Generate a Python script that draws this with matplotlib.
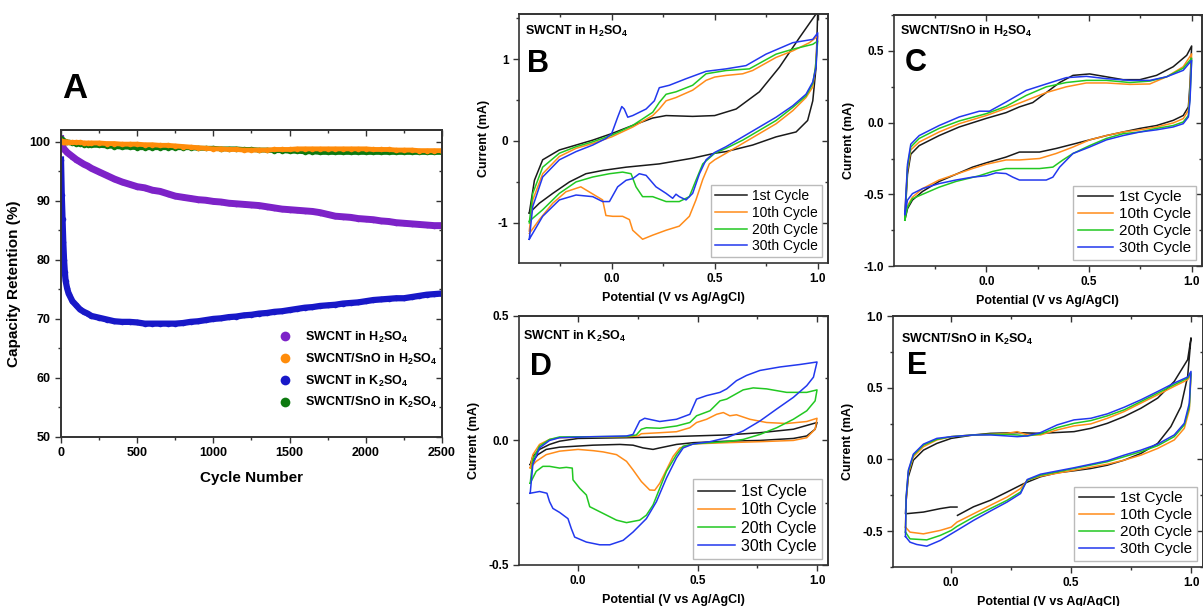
import numpy as np
import matplotlib
matplotlib.use('Agg')
import matplotlib.pyplot as plt
from matplotlib.ticker import MultipleLocator
from matplotlib.lines import Line2D

plt.rcParams['font.family'] = ['Liberation Sans', 'DejaVu Sans']
plt.rcParams['mathtext.default'] = 'regular'
plt.rcParams['axes.unicode_minus'] = False

# ---------------- Panel A: capacity retention ----------------
cycles = [0, 5, 10, 15, 20, 25, 30, 40, 50, 75, 100, 125, 150, 175, 200] + list(range(250, 2501, 50))

ret_swcnt_h2so4 = [100.5, 99.5, 99.2, 99.0, 98.8, 98.6, 98.5, 98.2, 98.0, 97.5, 97.0, 96.6, 96.2, 95.9, 95.5,
                   94.9, 94.3, 93.7, 93.2, 92.8, 92.4, 92.2, 91.8, 91.6, 91.2,
                   90.8, 90.6, 90.4, 90.2, 90.1, 89.9, 89.8, 89.6, 89.5, 89.4,
                   89.3, 89.2, 89.0, 88.8, 88.6, 88.5, 88.4, 88.3, 88.2, 88.0,
                   87.7, 87.4, 87.3, 87.2, 87.0, 86.9, 86.8, 86.6, 86.5, 86.3,
                   86.2, 86.1, 86.0, 85.9, 85.8, 85.8]
ret_snO_h2so4 = [100.2, 100.1, 100.0, 100.0, 100.0, 100.0, 100.0, 100.0, 99.9, 99.9, 99.9, 99.9, 99.8, 99.8, 99.8,
                 99.8, 99.7, 99.7, 99.6, 99.6, 99.6, 99.5, 99.5, 99.4, 99.4,
                 99.3, 99.2, 99.1, 99.0, 98.9, 98.8, 98.8, 98.7, 98.7, 98.6,
                 98.6, 98.6, 98.6, 98.7, 98.7, 98.7, 98.8, 98.8, 98.8, 98.8,
                 98.8, 98.8, 98.8, 98.8, 98.8, 98.8, 98.7, 98.7, 98.7, 98.6,
                 98.6, 98.6, 98.5, 98.5, 98.5, 98.5]
ret_swcnt_k2so4 = [97.0, 91.0, 87.0, 83.0, 80.0, 78.0, 76.5, 75.2, 74.3, 73.0, 72.3, 71.6, 71.2, 70.9, 70.5,
                   70.2, 69.9, 69.6, 69.5, 69.5, 69.4, 69.2, 69.2, 69.2, 69.2,
                   69.2, 69.3, 69.5, 69.6, 69.8, 70.0, 70.1, 70.3, 70.4, 70.6,
                   70.7, 70.9, 71.0, 71.2, 71.3, 71.5, 71.7, 71.9, 72.0, 72.2,
                   72.3, 72.4, 72.6, 72.7, 72.8, 73.0, 73.2, 73.3, 73.4, 73.5,
                   73.5, 73.7, 73.9, 74.1, 74.2, 74.3]
ret_snO_k2so4 = [100.6, 100.4, 100.3, 100.2, 100.1, 100.1, 100.0, 100.0, 99.9, 99.8, 99.7, 99.6, 99.5, 99.5, 99.4,
                 99.4, 99.3, 99.2, 99.1, 99.1, 99.0, 99.0, 99.0, 99.0, 99.0,
                 99.0, 99.0, 99.0, 98.9, 98.9, 98.9, 98.8, 98.8, 98.8, 98.7,
                 98.7, 98.6, 98.6, 98.5, 98.5, 98.4, 98.4, 98.3, 98.3, 98.2,
                 98.2, 98.2, 98.2, 98.2, 98.2, 98.2, 98.2, 98.2, 98.2, 98.2,
                 98.2, 98.2, 98.2, 98.2, 98.2, 98.2]

labels_A = ['SWCNT in H$_2$SO$_4$', 'SWCNT/SnO in H$_2$SO$_4$',
            'SWCNT in K$_2$SO$_4$', 'SWCNT/SnO in K$_2$SO$_4$']
colors_A = ['#7d22c8', '#ff8c0a', '#1818c8', '#0d7a10']

# ---------------- CV curves (potential V, current mA) ----------------
cycle_labels = ['1st Cycle', '10th Cycle', '20th Cycle', '30th Cycle']
cv_colors = ['#1a1a1a', '#ff8c1a', '#22c822', '#2238ee']

# B: SWCNT in H2SO4
B_1st = [(-0.40, -0.88), (-0.375, -0.48), (-0.335, -0.23), (-0.254, -0.11), (-0.173, -0.05), (-0.092, 0.01),
         (0.0, 0.09), (0.102, 0.19), (0.199, 0.28), (0.264, 0.31), (0.393, 0.30), (0.50, 0.31), (0.604, 0.39),
         (0.717, 0.60), (0.814, 0.90), (0.911, 1.26), (1.0, 1.58),
         (0.992, 0.90), (0.976, 0.49), (0.951, 0.25), (0.895, 0.11), (0.798, 0.05), (0.684, -0.05),
         (0.555, -0.13), (0.50, -0.15), (0.393, -0.21), (0.231, -0.28), (0.07, -0.32), (-0.044, -0.36),
         (-0.125, -0.40), (-0.205, -0.50), (-0.286, -0.64), (-0.351, -0.76), (-0.40, -0.88)]
B_10th = [(-0.40, -1.10), (-0.383, -0.72), (-0.335, -0.40), (-0.254, -0.19), (-0.173, -0.09), (-0.092, -0.03),
          (0.0, 0.05), (0.102, 0.17), (0.199, 0.31), (0.231, 0.39), (0.264, 0.49), (0.312, 0.53), (0.393, 0.62),
          (0.458, 0.74), (0.50, 0.78), (0.555, 0.80), (0.636, 0.82), (0.684, 0.86), (0.798, 1.02), (0.879, 1.10),
          (0.96, 1.20), (1.0, 1.28),
          (0.989, 0.90), (0.976, 0.66), (0.943, 0.53), (0.879, 0.37), (0.798, 0.21), (0.717, 0.09), (0.636, -0.03),
          (0.555, -0.15), (0.50, -0.23), (0.474, -0.28), (0.442, -0.47), (0.409, -0.72), (0.377, -0.92),
          (0.328, -1.04), (0.264, -1.09), (0.199, -1.15), (0.15, -1.20), (0.102, -1.09), (0.086, -0.96),
          (0.053, -0.92), (0.005, -0.92), (-0.028, -0.91), (-0.044, -0.72), (-0.15, -0.56), (-0.222, -0.62),
          (-0.286, -0.76), (-0.351, -0.96), (-0.40, -1.13)]
B_20th = [(-0.40, -1.0), (-0.383, -0.64), (-0.335, -0.32), (-0.254, -0.15), (-0.173, -0.07), (-0.092, -0.01),
          (0.0, 0.07), (0.102, 0.19), (0.199, 0.35), (0.231, 0.47), (0.264, 0.57), (0.312, 0.60), (0.393, 0.68),
          (0.458, 0.82), (0.555, 0.86), (0.668, 0.88), (0.798, 1.06), (0.879, 1.12), (0.976, 1.18), (1.0, 1.22),
          (0.989, 0.90), (0.976, 0.70), (0.943, 0.55), (0.879, 0.41), (0.798, 0.25), (0.717, 0.13), (0.636, 0.01),
          (0.555, -0.09), (0.50, -0.15), (0.442, -0.28), (0.409, -0.48), (0.377, -0.68), (0.328, -0.74),
          (0.264, -0.74), (0.199, -0.68), (0.15, -0.68), (0.118, -0.56), (0.094, -0.40), (0.053, -0.38),
          (-0.011, -0.40), (-0.092, -0.44), (-0.173, -0.50), (-0.254, -0.64), (-0.335, -0.84), (-0.40, -0.98)]
B_30th = [(-0.40, -1.2), (-0.383, -0.8), (-0.335, -0.44), (-0.254, -0.23), (-0.173, -0.13), (-0.092, -0.05),
          (-0.028, 0.03), (0.0, 0.09), (0.029, 0.29), (0.049, 0.42), (0.061, 0.39), (0.078, 0.29), (0.102, 0.31),
          (0.167, 0.39), (0.207, 0.49), (0.231, 0.65), (0.28, 0.68), (0.361, 0.76), (0.458, 0.85), (0.555, 0.88),
          (0.652, 0.92), (0.749, 1.06), (0.879, 1.20), (0.976, 1.24), (1.0, 1.32),
          (0.992, 0.90), (0.976, 0.72), (0.943, 0.57), (0.879, 0.43), (0.798, 0.29), (0.717, 0.17), (0.636, 0.05),
          (0.555, -0.07), (0.50, -0.14), (0.458, -0.23), (0.426, -0.40), (0.393, -0.64), (0.361, -0.72),
          (0.328, -0.68), (0.312, -0.65), (0.296, -0.70), (0.264, -0.64), (0.215, -0.56), (0.167, -0.42),
          (0.134, -0.40), (0.102, -0.46), (0.07, -0.48), (0.029, -0.56), (-0.011, -0.74), (-0.044, -0.74),
          (-0.092, -0.68), (-0.173, -0.66), (-0.254, -0.72), (-0.335, -0.92), (-0.40, -1.2)]

# C: SWCNT/SnO in H2SO4
C_1st = [(-0.397, -0.68), (-0.384, -0.36), (-0.368, -0.22), (-0.327, -0.16), (-0.23, -0.09), (-0.132, -0.03),
         (0.0, 0.03), (0.096, 0.07), (0.161, 0.11), (0.226, 0.14), (0.292, 0.21), (0.357, 0.28), (0.422, 0.33),
         (0.503, 0.34), (0.585, 0.32), (0.666, 0.30), (0.748, 0.30), (0.829, 0.33), (0.91, 0.39), (0.976, 0.47),
         (1.0, 0.535),
         (0.992, 0.27), (0.984, 0.11), (0.959, 0.05), (0.91, 0.016), (0.829, -0.02), (0.748, -0.04), (0.666, -0.065),
         (0.585, -0.09), (0.503, -0.12), (0.422, -0.15), (0.34, -0.18), (0.259, -0.205), (0.161, -0.205),
         (0.096, -0.24), (0.0, -0.28), (-0.067, -0.31), (-0.148, -0.36), (-0.23, -0.41), (-0.311, -0.48),
         (-0.36, -0.54), (-0.384, -0.60), (-0.397, -0.68)]
C_10th = [(-0.397, -0.63), (-0.384, -0.33), (-0.368, -0.19), (-0.327, -0.135), (-0.23, -0.065), (-0.132, -0.007),
          (0.0, 0.05), (0.096, 0.10), (0.194, 0.155), (0.292, 0.21), (0.389, 0.25), (0.487, 0.277), (0.585, 0.277),
          (0.699, 0.267), (0.796, 0.27), (0.878, 0.32), (0.959, 0.39), (1.0, 0.48),
          (0.992, 0.225), (0.984, 0.086), (0.959, 0.028), (0.91, -0.002), (0.829, -0.03), (0.748, -0.05),
          (0.666, -0.065), (0.585, -0.09), (0.503, -0.12), (0.422, -0.17), (0.34, -0.215), (0.259, -0.25),
          (0.161, -0.26), (0.096, -0.26), (0.0, -0.29), (-0.067, -0.32), (-0.148, -0.36), (-0.23, -0.40),
          (-0.311, -0.46), (-0.36, -0.52), (-0.384, -0.58), (-0.397, -0.63)]
C_20th = [(-0.397, -0.68), (-0.384, -0.31), (-0.368, -0.17), (-0.327, -0.11), (-0.23, -0.04), (-0.132, 0.012),
          (0.0, 0.063), (0.096, 0.114), (0.194, 0.19), (0.292, 0.25), (0.389, 0.28), (0.487, 0.295), (0.585, 0.295),
          (0.699, 0.28), (0.796, 0.29), (0.878, 0.32), (0.959, 0.38), (1.0, 0.45),
          (0.992, 0.18), (0.984, 0.05), (0.959, 0.005), (0.91, -0.02), (0.829, -0.04), (0.748, -0.065),
          (0.666, -0.077), (0.585, -0.11), (0.503, -0.16), (0.422, -0.215), (0.373, -0.26), (0.324, -0.31),
          (0.259, -0.32), (0.161, -0.32), (0.096, -0.32), (0.031, -0.34), (-0.034, -0.37), (-0.148, -0.41),
          (-0.23, -0.45), (-0.311, -0.50), (-0.36, -0.53), (-0.384, -0.59), (-0.397, -0.68)]
C_30th = [(-0.397, -0.64), (-0.384, -0.29), (-0.368, -0.15), (-0.327, -0.09), (-0.23, -0.02), (-0.132, 0.04),
          (-0.034, 0.08), (0.015, 0.08), (0.096, 0.144), (0.194, 0.225), (0.292, 0.27), (0.389, 0.314),
          (0.487, 0.323), (0.585, 0.307), (0.699, 0.295), (0.796, 0.295), (0.878, 0.32), (0.959, 0.365),
          (1.0, 0.435),
          (0.992, 0.156), (0.984, 0.04), (0.959, -0.007), (0.91, -0.03), (0.829, -0.05), (0.748, -0.065),
          (0.666, -0.09), (0.585, -0.12), (0.503, -0.17), (0.422, -0.215), (0.357, -0.31), (0.324, -0.38),
          (0.292, -0.40), (0.226, -0.40), (0.161, -0.40), (0.129, -0.38), (0.096, -0.355), (0.047, -0.35),
          (0.0, -0.37), (-0.067, -0.38), (-0.148, -0.40), (-0.23, -0.425), (-0.311, -0.46), (-0.36, -0.495),
          (-0.384, -0.54), (-0.397, -0.64)]

# D: SWCNT in K2SO4
D_1st = [(-0.2, -0.097), (-0.189, -0.064), (-0.161, -0.036), (-0.119, -0.016), (-0.077, -0.003), (0.0, 0.008),
         (0.203, 0.011), (0.342, 0.014), (0.482, 0.018), (0.622, 0.022), (0.761, 0.031), (0.901, 0.045),
         (1.0, 0.072),
         (0.992, 0.045), (0.957, 0.018), (0.901, 0.008), (0.761, 0.0), (0.622, -0.003), (0.482, -0.009),
         (0.412, -0.016), (0.342, -0.03), (0.314, -0.036), (0.272, -0.03), (0.23, -0.019), (0.175, -0.016),
         (0.063, -0.019), (-0.077, -0.027), (-0.133, -0.036), (-0.168, -0.057), (-0.2, -0.097)]
D_10th = [(-0.2, -0.11), (-0.189, -0.057), (-0.161, -0.016), (-0.119, 0.004), (-0.077, 0.011), (0.063, 0.014),
          (0.203, 0.015), (0.251, 0.018), (0.265, 0.027), (0.342, 0.031), (0.412, 0.035), (0.468, 0.051),
          (0.496, 0.072), (0.538, 0.085), (0.58, 0.105), (0.608, 0.112), (0.635, 0.099), (0.663, 0.103),
          (0.719, 0.085), (0.789, 0.072), (0.873, 0.068), (0.957, 0.076), (1.0, 0.089),
          (0.992, 0.045), (0.957, 0.011), (0.901, 0.0), (0.761, -0.005), (0.622, -0.009), (0.482, -0.014),
          (0.426, -0.03), (0.398, -0.064), (0.37, -0.118), (0.342, -0.172), (0.321, -0.20), (0.30, -0.199),
          (0.265, -0.165), (0.23, -0.118), (0.203, -0.084), (0.161, -0.057), (0.105, -0.046), (0.063, -0.041),
          (0.0, -0.036), (-0.077, -0.043), (-0.133, -0.057), (-0.175, -0.084), (-0.2, -0.11)]
D_20th = [(-0.2, -0.172), (-0.189, -0.077), (-0.161, -0.023), (-0.119, 0.004), (-0.077, 0.014), (0.063, 0.015),
          (0.203, 0.016), (0.244, 0.022), (0.265, 0.045), (0.286, 0.051), (0.342, 0.049), (0.412, 0.058),
          (0.468, 0.072), (0.496, 0.099), (0.552, 0.119), (0.594, 0.159), (0.622, 0.166), (0.691, 0.203),
          (0.733, 0.211), (0.789, 0.207), (0.873, 0.193), (0.957, 0.193), (1.0, 0.203),
          (0.992, 0.159), (0.957, 0.119), (0.901, 0.085), (0.831, 0.051), (0.761, 0.024), (0.691, 0.004),
          (0.622, -0.005), (0.552, -0.009), (0.482, -0.014), (0.44, -0.023), (0.412, -0.057), (0.37, -0.124),
          (0.342, -0.192), (0.314, -0.259), (0.286, -0.30), (0.258, -0.32), (0.203, -0.33), (0.161, -0.32),
          (0.105, -0.293), (0.049, -0.266), (0.035, -0.219), (0.007, -0.192), (-0.021, -0.158), (-0.024, -0.111),
          (-0.049, -0.108), (-0.077, -0.111), (-0.119, -0.104), (-0.147, -0.104), (-0.175, -0.124), (-0.2, -0.172)]
D_30th = [(-0.2, -0.212), (-0.189, -0.097), (-0.161, -0.03), (-0.119, 0.0), (-0.077, 0.011), (0.063, 0.015),
          (0.203, 0.018), (0.23, 0.024), (0.258, 0.078), (0.279, 0.089), (0.342, 0.076), (0.412, 0.085),
          (0.468, 0.105), (0.496, 0.166), (0.538, 0.18), (0.594, 0.193), (0.622, 0.207), (0.663, 0.24),
          (0.705, 0.261), (0.761, 0.281), (0.845, 0.295), (0.929, 0.305), (1.0, 0.315),
          (0.985, 0.254), (0.957, 0.22), (0.901, 0.173), (0.831, 0.126), (0.761, 0.078), (0.691, 0.038),
          (0.622, 0.011), (0.552, -0.005), (0.482, -0.014), (0.44, -0.03), (0.412, -0.07), (0.37, -0.151),
          (0.328, -0.246), (0.286, -0.314), (0.23, -0.368), (0.189, -0.401), (0.133, -0.419), (0.091, -0.419),
          (0.035, -0.408), (-0.014, -0.388), (-0.028, -0.354), (-0.042, -0.314), (-0.077, -0.289),
          (-0.105, -0.273), (-0.119, -0.246), (-0.13, -0.212), (-0.161, -0.205), (-0.2, -0.212)]

# E: SWCNT/SnO in K2SO4
E_1st = [(0.026, -0.39), (0.093, -0.33), (0.163, -0.285), (0.233, -0.227), (0.303, -0.168), (0.372, -0.121),
         (0.442, -0.093), (0.512, -0.079), (0.582, -0.063), (0.651, -0.04), (0.721, -0.005), (0.791, 0.042),
         (0.861, 0.112), (0.916, 0.229), (0.958, 0.369), (0.986, 0.58), (1.0, 0.848),
         (0.986, 0.696), (0.93, 0.544), (0.861, 0.428), (0.791, 0.357), (0.721, 0.299), (0.651, 0.252),
         (0.582, 0.217), (0.512, 0.194), (0.372, 0.182), (0.275, 0.187), (0.163, 0.182), (0.093, 0.171),
         (0.0, 0.147), (-0.06, 0.112), (-0.116, 0.065), (-0.158, -0.005), (-0.179, -0.121), (-0.188, -0.285),
         (-0.191, -0.379), (-0.116, -0.367), (-0.046, -0.343), (-0.004, -0.332), (0.024, -0.332)]
E_10th = [(-0.191, -0.472), (-0.188, -0.285), (-0.179, -0.098), (-0.158, 0.019), (-0.116, 0.089), (-0.06, 0.136),
          (0.0, 0.159), (0.093, 0.171), (0.163, 0.175), (0.233, 0.182), (0.275, 0.194), (0.317, 0.171),
          (0.372, 0.171), (0.442, 0.206), (0.512, 0.234), (0.582, 0.248), (0.651, 0.287), (0.721, 0.334),
          (0.791, 0.393), (0.861, 0.451), (0.93, 0.51), (0.986, 0.556), (1.0, 0.591),
          (0.993, 0.346), (0.972, 0.217), (0.93, 0.136), (0.861, 0.077), (0.791, 0.03), (0.721, -0.005),
          (0.651, -0.033), (0.512, -0.075), (0.372, -0.117), (0.317, -0.145), (0.289, -0.203), (0.233, -0.262),
          (0.163, -0.32), (0.093, -0.379), (0.024, -0.437), (0.0, -0.472), (-0.046, -0.495), (-0.116, -0.519),
          (-0.172, -0.507), (-0.191, -0.472)]
E_20th = [(-0.191, -0.507), (-0.188, -0.262), (-0.179, -0.086), (-0.158, 0.03), (-0.116, 0.10), (-0.06, 0.14),
          (0.0, 0.159), (0.093, 0.171), (0.163, 0.175), (0.233, 0.175), (0.275, 0.171), (0.317, 0.164),
          (0.372, 0.178), (0.442, 0.222), (0.512, 0.252), (0.582, 0.271), (0.651, 0.304), (0.721, 0.346),
          (0.791, 0.404), (0.861, 0.463), (0.93, 0.521), (0.986, 0.568), (1.0, 0.603),
          (0.993, 0.369), (0.972, 0.241), (0.93, 0.159), (0.861, 0.096), (0.791, 0.054), (0.721, 0.019),
          (0.651, -0.016), (0.512, -0.063), (0.372, -0.11), (0.317, -0.145), (0.289, -0.227), (0.233, -0.285),
          (0.163, -0.343), (0.093, -0.402), (0.024, -0.467), (0.0, -0.495), (-0.046, -0.53), (-0.102, -0.561),
          (-0.172, -0.554), (-0.191, -0.507)]
E_30th = [(-0.191, -0.537), (-0.188, -0.262), (-0.179, -0.075), (-0.158, 0.037), (-0.116, 0.107), (-0.06, 0.147),
          (0.0, 0.159), (0.093, 0.171), (0.163, 0.171), (0.233, 0.164), (0.275, 0.159), (0.317, 0.164),
          (0.372, 0.187), (0.442, 0.241), (0.512, 0.276), (0.582, 0.287), (0.651, 0.318), (0.721, 0.364),
          (0.791, 0.416), (0.861, 0.474), (0.93, 0.533), (0.986, 0.575), (1.0, 0.614),
          (0.993, 0.393), (0.972, 0.252), (0.93, 0.171), (0.861, 0.107), (0.791, 0.065), (0.721, 0.03),
          (0.651, -0.009), (0.512, -0.058), (0.372, -0.103), (0.317, -0.14), (0.289, -0.238), (0.233, -0.297),
          (0.163, -0.36), (0.093, -0.425), (0.024, -0.495), (0.0, -0.519), (-0.046, -0.565), (-0.102, -0.605),
          (-0.144, -0.593), (-0.172, -0.577), (-0.191, -0.537)]

SPINE = '#333333'


def style_axes(ax, lw=1.2):
    # outward ticks on left/bottom, inward mirror ticks on top/right (Origin look)
    for s in ax.spines.values():
        s.set_linewidth(lw)
        s.set_color(SPINE)
    ax.tick_params(which='both', direction='out', color=SPINE, width=1.0)
    ax.tick_params(which='major', length=4)
    ax.tick_params(which='minor', length=2.5)
    top = ax.secondary_xaxis('top')
    right = ax.secondary_yaxis('right')
    top.xaxis.set_major_locator(ax.xaxis.get_major_locator())
    top.xaxis.set_minor_locator(ax.xaxis.get_minor_locator())
    right.yaxis.set_major_locator(ax.yaxis.get_major_locator())
    right.yaxis.set_minor_locator(ax.yaxis.get_minor_locator())
    for sec in (top, right):
        sec.tick_params(which='both', direction='in', color=SPINE, width=1.0,
                        labeltop=False, labelright=False)
        sec.tick_params(which='major', length=4)
        sec.tick_params(which='minor', length=2.5)
        for s in sec.spines.values():
            s.set_linewidth(lw)
            s.set_color(SPINE)


fig = plt.figure(figsize=(12.03, 6.06), dpi=100)

# ---- Panel A ----
axA = fig.add_axes([0.0507, 0.2789, 0.3167, 0.5066])
seriesA = [ret_swcnt_h2so4, ret_snO_k2so4, ret_snO_h2so4, ret_swcnt_k2so4]
colA = [colors_A[0], colors_A[3], colors_A[1], colors_A[2]]
lwA = [5, 3.5, 3.5, 4.5]
for vals, c, lw in zip(seriesA, colA, lwA):
    axA.plot(cycles, vals, '-o', color=c, lw=lw, ms=4, mew=0)
axA.set_xlim(0, 2500)
axA.set_ylim(50, 102)
axA.xaxis.set_major_locator(MultipleLocator(500))
axA.xaxis.set_minor_locator(MultipleLocator(250))
axA.yaxis.set_major_locator(MultipleLocator(10))
axA.yaxis.set_minor_locator(MultipleLocator(5))
style_axes(axA, lw=1.4)
for lab in axA.get_xticklabels() + axA.get_yticklabels():
    lab.set_fontsize(9)
    lab.set_fontweight('bold')
axA.set_xlabel('Cycle Number', fontsize=11, fontweight='bold', labelpad=8)
axA.set_ylabel('Capacity Retention (%)', fontsize=11, fontweight='bold', labelpad=6)
handlesA = [Line2D([], [], ls='none', marker='o', ms=7, color=c, mew=0) for c in colors_A]
axA.legend(handlesA, labels_A, loc='lower right', bbox_to_anchor=(1.0, 0.07), frameon=False,
           prop={'weight': 'bold', 'size': 9}, handletextpad=0.6, labelspacing=0.55, borderaxespad=0)
fig.text(0.0515, 0.838, 'A', fontsize=25, fontweight='bold')


def cv_panel(rect, curves, xlim, ylim, ymajor, title, letter, title_xy, letter_xy, legsize):
    ax = fig.add_axes(rect)
    for pts, c, lab in zip(curves, cv_colors, cycle_labels):
        v, i = np.array(pts).T
        ax.plot(v, i, color=c, lw=1.1, label=lab)
    ax.set_xlim(*xlim)
    ax.set_ylim(*ylim)
    ax.xaxis.set_major_locator(MultipleLocator(0.5))
    ax.xaxis.set_minor_locator(MultipleLocator(0.25))
    ax.yaxis.set_major_locator(MultipleLocator(ymajor))
    ax.yaxis.set_minor_locator(MultipleLocator(ymajor / 2))
    style_axes(ax)
    for lab in ax.get_xticklabels() + ax.get_yticklabels():
        lab.set_fontsize(8.5)
        lab.set_fontweight('bold')
    ax.set_xlabel('Potential (V vs Ag/AgCl)', fontsize=9, fontweight='bold', labelpad=5)
    ax.set_ylabel('Current (mA)', fontsize=9, fontweight='bold', labelpad=6)
    ax.text(title_xy[0], title_xy[1], title, transform=ax.transAxes, fontsize=9, fontweight='bold')
    ax.text(letter_xy[0], letter_xy[1], letter, transform=ax.transAxes, fontsize=22, fontweight='bold')
    leg = ax.legend(loc='lower right', fontsize=legsize, fancybox=False, handlelength=2.3,
                    labelspacing=0.2, borderpad=0.3, handletextpad=0.4, borderaxespad=0.4)
    leg.get_frame().set_edgecolor('#aaaaaa')
    leg.get_frame().set_linewidth(1.0)
    return ax


cv_panel([0.4314, 0.566, 0.2569, 0.4109], [B_1st, B_10th, B_20th, B_30th], (-0.45, 1.05), (-1.49, 1.55), 1.0,
         'SWCNT in H$_2$SO$_4$', 'B', (0.02, 0.916), (0.026, 0.767), 10)
cv_panel([0.7431, 0.561, 0.256, 0.414], [C_1st, C_10th, C_20th, C_30th], (-0.45, 1.05), (-1.0, 0.75), 0.5,
         'SWCNT/SnO in H$_2$SO$_4$', 'C', (0.02, 0.92), (0.036, 0.777), 11)
cv_panel([0.4314, 0.0677, 0.2569, 0.411], [D_1st, D_10th, D_20th, D_30th], (-0.247, 1.046), (-0.5, 0.5), 0.5,
         'SWCNT in K$_2$SO$_4$', 'D', (0.013, 0.904), (0.036, 0.763), 11.5)
cv_panel([0.7423, 0.0644, 0.2577, 0.414], [E_1st, E_10th, E_20th, E_30th], (-0.243, 1.05), (-0.75, 1.0), 0.5,
         'SWCNT/SnO in K$_2$SO$_4$', 'E', (0.026, 0.892), (0.045, 0.769), 11)

fig.savefig('out.png', dpi=100)
